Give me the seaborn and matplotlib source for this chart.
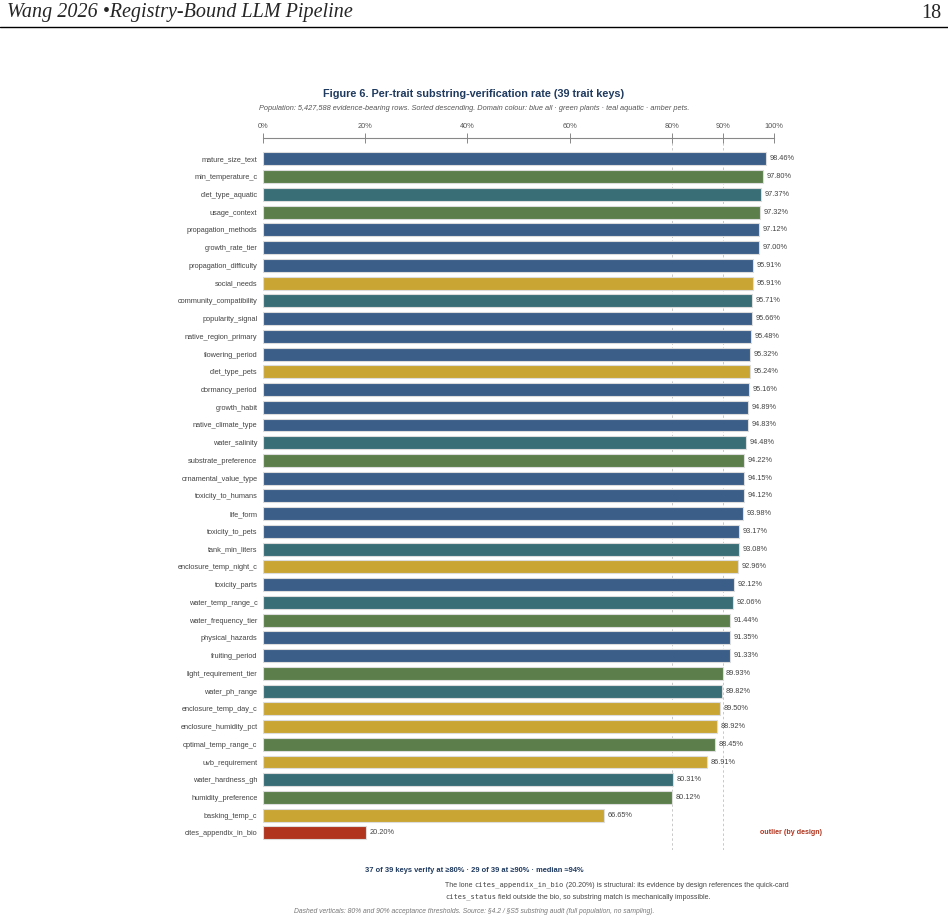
import pandas as pd
import seaborn as sns
import matplotlib.pyplot as plt

# data (sorted descending)
keys = ['mature_size_text', 'min_temperature_c', 'diet_type_aquatic', 'usage_context',
        'propagation_methods', 'growth_rate_tier', 'propagation_difficulty', 'social_needs',
        'community_compatibility', 'popularity_signal', 'native_region_primary', 'flowering_period',
        'diet_type_pets', 'dormancy_period', 'growth_habit', 'native_climate_type', 'water_salinity',
        'substrate_preference', 'ornamental_value_type', 'toxicity_to_humans', 'life_form',
        'toxicity_to_pets', 'tank_min_liters', 'enclosure_temp_night_c', 'toxicity_parts',
        'water_temp_range_c', 'water_frequency_tier', 'physical_hazards', 'fruiting_period',
        'light_requirement_tier', 'water_ph_range', 'enclosure_temp_day_c', 'enclosure_humidity_pct',
        'optimal_temp_range_c', 'uvb_requirement', 'water_hardness_gh', 'humidity_preference',
        'basking_temp_c', 'cites_appendix_in_bio']
rates = [98.46, 97.80, 97.37, 97.32, 97.12, 97.00, 95.91, 95.91, 95.71, 95.66, 95.48, 95.32,
         95.24, 95.16, 94.89, 94.83, 94.48, 94.22, 94.15, 94.12, 93.98, 93.17, 93.08, 92.96,
         92.12, 92.06, 91.44, 91.35, 91.33, 89.93, 89.82, 89.50, 88.92, 88.45, 86.91, 80.31,
         80.12, 66.65, 20.20]
domains = ['all', 'plants', 'aquatic', 'plants', 'all', 'all', 'all', 'pets', 'aquatic', 'all',
           'all', 'all', 'pets', 'all', 'all', 'all', 'aquatic', 'plants', 'all', 'all', 'all',
           'all', 'aquatic', 'pets', 'all', 'aquatic', 'plants', 'all', 'all', 'plants', 'aquatic',
           'pets', 'pets', 'plants', 'pets', 'aquatic', 'plants', 'pets', 'outlier']
tick_values = [0, 20, 40, 60, 80, 90, 100]
thresholds = [80, 90]

colors = {'all': '#3b5e88', 'plants': '#5b7e4a', 'aquatic': '#396e77',
          'pets': '#c9a634', 'outlier': '#b0341e'}

df = pd.DataFrame({'key': keys, 'rate': rates, 'domain': domains})

sns.set_style('white')
plt.rcParams['font.family'] = ['Liberation Sans', 'DejaVu Sans']

fig = plt.figure(figsize=(9.48, 9.22), dpi=100)
ax = fig.add_axes([263 / 948, 1 - 850 / 922, 511 / 948, 712 / 922])

sns.barplot(data=df, x='rate', y='key', hue='domain', palette=colors, dodge=False, saturation=1,
            width=0.73, edgecolor='#dcdcdc', linewidth=0.8, legend=False, ax=ax, orient='h')

ax.set_xlim(0, 100)
ax.set_ylim(38.96, -1.18)

# threshold lines
for t in thresholds:
    ax.axvline(t, ymin=0, ymax=0.995, color='#c8c8c8', lw=0.7, ls=(0, (2.5, 2.5)), zorder=0)

# value labels
for i, v in enumerate(rates):
    ax.text(v + 0.7, i, f'{v:.2f}%', va='center', ha='left', fontsize=5.3, color='#444444')

ax.text(109.4, len(keys) - 1, 'outlier (by design)', ha='right', va='center', fontsize=5.1,
        color=colors['outlier'], fontweight='bold', clip_on=False)

# axis styling
ax.xaxis.tick_top()
ax.set_xticks(tick_values)
ax.set_xticklabels([f'{t}%' for t in tick_values])
ax.tick_params(axis='x', direction='inout', length=7, width=0.7, color='#888888',
               labelsize=5.3, labelcolor='#555555', pad=2)
ax.tick_params(axis='y', length=0, labelsize=5.3, labelcolor='#444444', pad=4)
ax.set_xlabel('')
ax.set_ylabel('')
for s in ['right', 'bottom', 'left']:
    ax.spines[s].set_visible(False)
ax.spines['top'].set_color('#888888')
ax.spines['top'].set_linewidth(0.8)

# titles
fig.text(474 / 948, 1 - 94 / 922, 'Figure 6. Per-trait substring-verification rate (39 trait keys)',
         ha='center', va='center', fontsize=7.8, fontweight='bold', color='#1f3a5f')
fig.text(474 / 948, 1 - 109 / 922,
         'Population: 5,427,588 evidence-bearing rows. Sorted descending. Domain colour: '
         'blue all · green plants · teal aquatic · amber pets.',
         ha='center', va='center', fontsize=5.3, style='italic', color='#555555')

# page header
serif = ['Liberation Serif', 'DejaVu Serif']
fig.text(7 / 948, 1 - 13 / 922, 'Wang 2026 •Registry-Bound LLM Pipeline', ha='left', va='center',
         fontsize=14.5, style='italic', family=serif)
fig.text(941 / 948, 1 - 13 / 922, '18', ha='right', va='center', fontsize=14.5, family=serif)
fig.add_artist(plt.Line2D([0, 1], [1 - 27 / 922, 1 - 27 / 922], color='black', lw=1))

# notes below chart
fig.text(474 / 948, 1 - 870 / 922,
         '37 of 39 keys verify at ≥80% · 29 of 39 at ≥90% · median ≈94%',
         ha='center', va='center', fontsize=5.4, fontweight='bold', color='#1f3a5f')

renderer = fig.canvas.get_renderer()


def text_run(x_px, y_px, parts):
    # lay out sans / mono pieces one after the other
    x = x_px
    for s, mono in parts:
        t = fig.text(x / 948, 1 - y_px / 922, s, ha='left', va='center', fontsize=5.0,
                     color='#444444', family='DejaVu Sans Mono' if mono else ['Liberation Sans'])
        x += t.get_window_extent(renderer).width + 2


text_run(445, 885, [('The lone', False), ('cites_appendix_in_bio', True),
                    ('(20.20%) is structural: its evidence by design references the quick-card', False)])
text_run(445, 897, [('cites_status', True),
                    ('field outside the bio, so substring match is mechanically impossible.', False)])

fig.text(474 / 948, 1 - 911 / 922,
         'Dashed verticals: 80% and 90% acceptance thresholds. Source: §4.2 / §S5 substring audit '
         '(full population, no sampling).',
         ha='center', va='center', fontsize=4.85, style='italic', color='#777777')

fig.savefig('out.png', dpi=100)
